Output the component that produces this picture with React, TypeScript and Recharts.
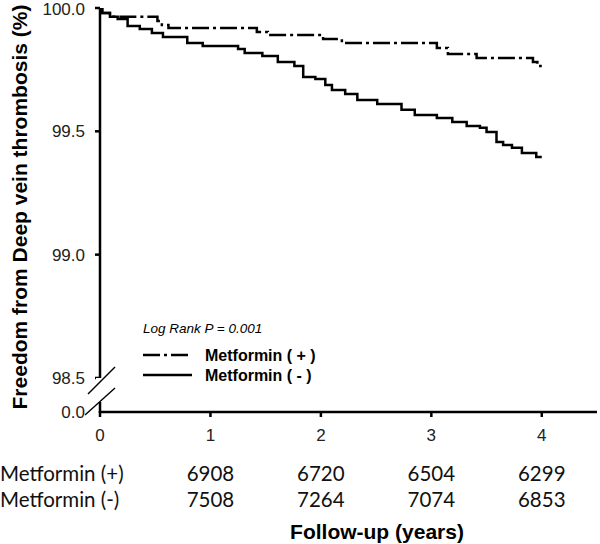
import React from 'react';
import { LineChart, Line, XAxis, YAxis, Legend } from 'recharts';

// follow-up time (years) and survival (%)
const timePlus = [0, 0.02, 0.09, 0.52, 0.56, 0.62, 1.42, 1.52, 2.02, 2.19, 3.05, 3.15, 3.41, 3.92, 3.96, 4.0];
const survPlus = [100, 99.98, 99.965, 99.947, 99.931, 99.919, 99.903, 99.891, 99.874, 99.858, 99.838, 99.814, 99.797, 99.781, 99.765, 99.765];

const timeMinus = [0, 0.02, 0.09, 0.16, 0.25, 0.36, 0.47, 0.57, 0.79, 0.93, 1.25, 1.31, 1.47, 1.61, 1.76, 1.84, 1.95, 2.04, 2.1, 2.22, 2.33, 2.51, 2.73, 2.85, 3.05, 3.19, 3.32, 3.44, 3.5, 3.59, 3.65, 3.73, 3.82, 3.95, 4.0];
const survMinus = [100, 99.98, 99.965, 99.955, 99.927, 99.915, 99.899, 99.882, 99.858, 99.846, 99.834, 99.818, 99.805, 99.781, 99.765, 99.72, 99.712, 99.688, 99.668, 99.651, 99.627, 99.611, 99.587, 99.566, 99.554, 99.538, 99.522, 99.514, 99.497, 99.457, 99.445, 99.433, 99.412, 99.396, 99.396];

const yearTicks = [0, 1, 2, 3, 4];
const survivalTicks = [98.362, 98.5, 99.0, 99.5, 100.0]; // first one is the broken "0.0"
const groupNames = ['Metformin ( + )', 'Metformin ( - )'];
const riskLabels = ['Metformin (+)', 'Metformin (-)'];
const atRiskPlus = [null, 6908, 6720, 6504, 6299];
const atRiskMinus = [null, 7508, 7264, 7074, 6853];

const plusData = timePlus.map((t, i) => ({ t, s: survPlus[i] }));
const minusData = timeMinus.map((t, i) => ({ t, s: survMinus[i] }));

const AXIS_X = 100;
const RISK_ROWS_Y = [474, 500];
const DASH = '17 4 3 4';
const arial = '"Liberation Sans", Arial, sans-serif';
const table = 'Lato, "Open Sans", sans-serif';

function YTick(props: any) {
  const { x, y, payload } = props;
  const isBreak = payload.value === survivalTicks[0];
  return (
    <g>
      {isBreak && (
        <g>
          <rect x={AXIS_X - 4} y={y - 34} width={8} height={24} fill="#fff" />
          <rect x={AXIS_X - 8} y={y - 2} width={6.5} height={4} fill="#fff" />
          <line x1={AXIS_X - 12} y1={y - 18} x2={AXIS_X + 15} y2={y - 45} stroke="#000" strokeWidth={1.4} />
          <line x1={AXIS_X - 15} y1={y + 3} x2={AXIS_X + 15} y2={y - 24} stroke="#000" strokeWidth={1.4} />
        </g>
      )}
      <text x={x} y={y} dy="0.35em" textAnchor="end" fontFamily={arial} fontSize={17} fill="#222">
        {isBreak ? '0.0' : payload.value.toFixed(1)}
      </text>
    </g>
  );
}

function XTick(props: any) {
  const { x, y, payload, index } = props;
  const counts = [atRiskPlus[index], atRiskMinus[index]];
  return (
    <g>
      <text x={x} y={y} dy="0.71em" textAnchor="middle" fontFamily={arial} fontSize={17} fill="#222">
        {payload.value}
      </text>
      {counts.map((c, i) =>
        c == null ? null : (
          <text key={i} x={x} y={RISK_ROWS_Y[i]} dy="0.35em" textAnchor="middle" fontFamily={table} fontSize={20.5} fill="#111">
            {c}
          </text>
        )
      )}
      {index === 0 &&
        riskLabels.map((l, i) => (
          <text key={l} x={0} y={RISK_ROWS_Y[i]} dy="0.35em" textAnchor="start" fontFamily={table} fontSize={20.5} fill="#111">
            {l}
          </text>
        ))}
    </g>
  );
}

function KMLegend(props: any) {
  const items = props.payload || [];
  return (
    <svg width={240} height={68} style={{ display: 'block' }}>
      <text x={2} y={15} fontFamily={arial} fontStyle="italic" fontSize={13.5} fill="#000">
        Log Rank P = 0.001
      </text>
      {items.map((it: any, i: number) => (
        <g key={i}>
          <line x1={2} x2={i === 0 ? 47 : 51} y1={37 + i * 20} y2={37 + i * 20} stroke="#000" strokeWidth={2.5} strokeDasharray={i === 0 ? DASH : undefined} />
          <text x={64} y={37 + i * 20} dy="0.35em" fontFamily={arial} fontWeight="bold" fontSize={16} fill="#000">
            {it.value}
          </text>
        </g>
      ))}
    </svg>
  );
}

export default function App() {
  return (
    <div style={{ width: 600, height: 544, background: '#fff', position: 'relative' }}>
      <style>{'body{margin:0}'}</style>
      <LineChart width={600} height={544} margin={{ top: 8, right: 3, bottom: 102, left: 40 }}>
        <XAxis
          dataKey="t"
          type="number"
          domain={[0, 4.5]}
          ticks={yearTicks}
          allowDataOverflow
          stroke="#000"
          strokeWidth={2.5}
          tickSize={5}
          tickMargin={12}
          tick={<XTick />}
          height={30}
          label={{
            content: () => (
              <text x={377} y={532} dy="0.35em" textAnchor="middle" fontFamily={arial} fontWeight="bold" fontSize={21} fill="#000">
                Follow-up (years)
              </text>
            ),
          }}
        />
        <YAxis
          dataKey="s"
          type="number"
          domain={[survivalTicks[0], 100]}
          ticks={survivalTicks}
          allowDataOverflow
          stroke="#000"
          strokeWidth={2.5}
          tickSize={5}
          tickMargin={10}
          tick={<YTick />}
          width={60}
          label={{
            content: () => (
              <text x={20} y={207} dy="0.35em" textAnchor="middle" transform="rotate(-90 20 207)" fontFamily={arial} fontWeight="bold" fontSize={21} fill="#000">
                Freedom from Deep vein thrombosis (%)
              </text>
            ),
          }}
        />
        <Legend
          layout="vertical"
          align="center"
          verticalAlign="middle"
          content={<KMLegend />}
          wrapperStyle={{ left: 141, top: 318, width: 240 }}
        />
        <Line data={plusData} dataKey="s" name={groupNames[0]} type="stepAfter" stroke="#000" strokeWidth={2.5} strokeDasharray={DASH} dot={false} isAnimationActive={false} />
        <Line data={minusData} dataKey="s" name={groupNames[1]} type="stepAfter" stroke="#000" strokeWidth={2.5} dot={false} isAnimationActive={false} />
      </LineChart>
    </div>
  );
}
